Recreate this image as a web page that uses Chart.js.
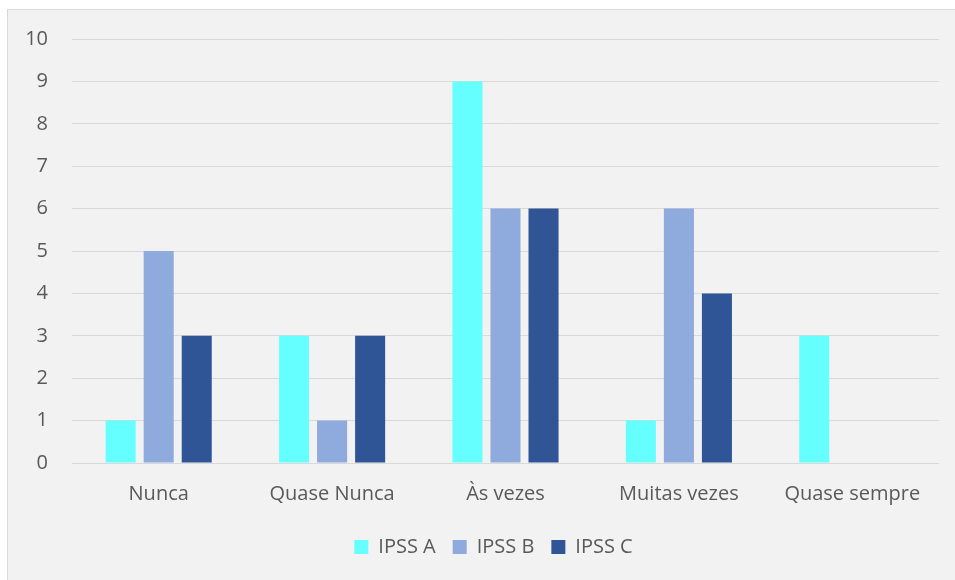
<!DOCTYPE html>
<html>
<head>
<meta charset="utf-8">
<script src="https://cdn.jsdelivr.net/npm/chart.js@4.4.1/dist/chart.umd.min.js"></script>
<style>
  html, body { margin: 0; padding: 0; background: #ffffff; width: 955px; height: 580px; overflow: hidden; }
  #panel {
    position: absolute; left: 7px; top: 9px; width: 947px; height: 570px;
    background: #F2F2F2; border-left: 1px solid #D9D9D9; border-top: 1px solid #D9D9D9;
  }
  #chart { display: block; }
</style>
</head>
<body>
<div id="panel"><canvas id="chart" width="947" height="570"></canvas></div>
<script>
const categories = ['Nunca', 'Quase Nunca', 'Às vezes', 'Muitas vezes', 'Quase sempre'];
const ipssA = [1, 3, 9, 1, 3];
const ipssB = [5, 1, 6, 6, 0];
const ipssC = [3, 3, 6, 4, 0];
const yTicks = [0, 1, 2, 3, 4, 5, 6, 7, 8, 9, 10];

const textColor = '#595959';
const gridColor = '#D9D9D9';
const font = { family: '"Open Sans", sans-serif', size: 20 };

// Centre the legend under the plot area rather than the whole canvas.
const legendOffset = {
  id: 'legendOffset',
  afterLayout(chart) {
    if (chart.legend) {
      chart.legend.left += 20;
      chart.legend.right += 20;
    }
  }
};

new Chart(document.getElementById('chart'), {
  type: 'bar',
  data: {
    labels: categories,
    datasets: [
      { label: 'IPSS A', data: ipssA, backgroundColor: '#66FFFF' },
      { label: 'IPSS B', data: ipssB, backgroundColor: '#8FAADC' },
      { label: 'IPSS C', data: ipssC, backgroundColor: '#2F5597' }
    ]
  },
  options: {
    responsive: false,
    animation: false,
    categoryPercentage: 0.658,
    barPercentage: 0.79,
    layout: { autoPadding: false, padding: { left: 0, right: 16, top: 29, bottom: 13 } },
    scales: {
      x: {
        grid: { display: false },
        border: { display: false },
        ticks: { color: textColor, font: font, padding: 11, maxRotation: 0 },
        afterFit: (scale) => { scale.height = 57; scale.paddingLeft = 0; scale.paddingRight = 0; }
      },
      y: {
        min: 0, max: 10,
        afterBuildTicks: (scale) => { scale.ticks = yTicks.map(v => ({ value: v })); },
        grid: { color: gridColor, lineWidth: 1, drawTicks: false },
        border: { display: false },
        ticks: { color: textColor, font: font, padding: 24 },
        afterFit: (scale) => { scale.width = 64; scale.paddingTop = 0; scale.paddingBottom = 0; }
      }
    },
    plugins: {
      legend: {
        position: 'bottom',
        labels: { color: textColor, font: font, boxWidth: 14, boxHeight: 14, padding: 17 }
      },
      tooltip: { enabled: false }
    }
  },
  plugins: [legendOffset]
});
</script>
</body>
</html>
